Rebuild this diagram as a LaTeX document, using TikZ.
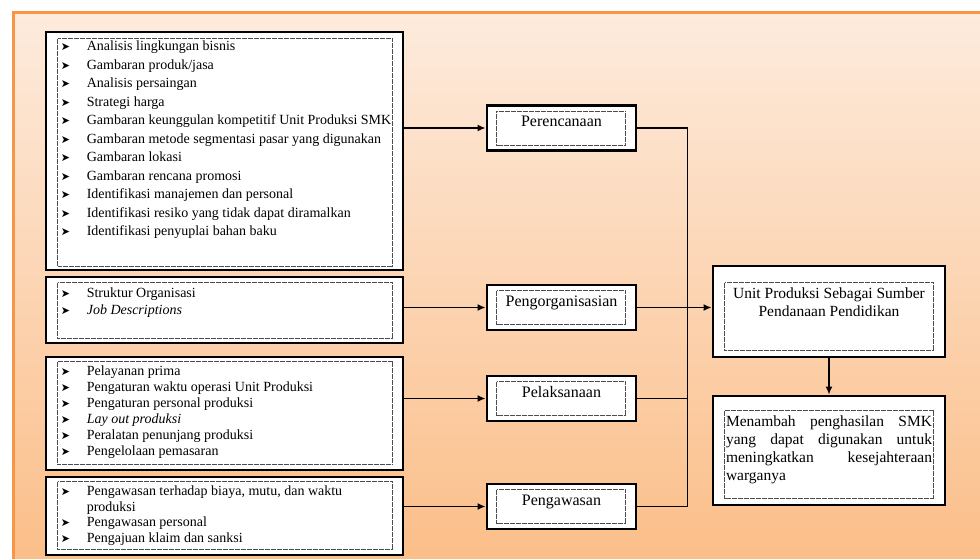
\documentclass[tikz,border=0pt]{standalone}
\usepackage{fontspec}
\setmainfont{Liberation Serif}
\newfontfamily\symfont{DejaVu Sans}
\usetikzlibrary{arrows.meta,positioning}
\definecolor{frameorange}{HTML}{F79646}
\definecolor{shadetop}{HTML}{FDEBDD}
\definecolor{shadebot}{HTML}{FBBE88}
\newcommand{\blt}{\makebox[29pt][l]{\hspace{3pt}{\symfont\fontsize{11}{11}\selectfont ➤}}}

\begin{document}
\begin{tikzpicture}[
  x=1pt, y=-1pt,
  listbox/.style={draw, line width=2.8pt, fill=white, minimum width=357pt, inner sep=0pt},
  stagebox/.style={draw, line width=2.8pt, fill=white, minimum width=149pt, minimum height=45pt,
    inner sep=0pt, font=\fontsize{16}{18}\selectfont, text height=10pt, text depth=13pt},
  resultbox/.style={draw, line width=2.8pt, fill=white, minimum width=232pt, inner sep=0pt},
  listtext/.style={align=left, inner sep=0pt, anchor=north west, font=\fontsize{14}{#1}\selectfont},
  dotline/.style={line width=0.6pt, black!70, dash pattern=on 0.5pt off 0.7pt},
  conn/.style={line width=1.8pt},
  arrow/.style={conn, -{Latex[length=8pt,width=7pt]}}
]
\useasboundingbox (0,0) rectangle (980,558);
% panel
\shade[top color=shadetop, bottom color=shadebot] (13,12) rectangle (985,565);
\draw[frameorange, line width=3pt] (13,565) -- (13,12) -- (985,12);

% left lists
\node[listbox, minimum height=238pt] (planbox) at (224.5,151) {};
\node[listbox, minimum height=66pt] (orgbox) at (224.5,310) {};
\node[listbox, minimum height=113pt] (execbox) at (224.5,413.5) {};
\node[listbox, minimum height=78pt] (ctrlbox) at (224.5,516) {};
\draw[dotline] ([shift={(13,8)}]planbox.north west) rectangle ([shift={(-12,-5)}]planbox.south east);
\draw[dotline] ([shift={(13,7)}]orgbox.north west) rectangle ([shift={(-12,-6)}]orgbox.south east);
\draw[dotline] ([shift={(13,6)}]execbox.north west) rectangle ([shift={(-12,-7)}]execbox.south east);
\draw[dotline] ([shift={(13,6)}]ctrlbox.north west) rectangle ([shift={(-12,-7)}]ctrlbox.south east);

\node[listtext=18.5pt, below right=10pt and 13pt of planbox.north west] (plantext) {%
  \blt Analisis lingkungan bisnis\\
  \blt Gambaran produk/jasa\\
  \blt Analisis persaingan\\
  \blt Strategi harga\\
  \blt Gambaran keunggulan kompetitif Unit Produksi SMK\\
  \blt Gambaran metode segmentasi pasar yang digunakan\\
  \blt Gambaran lokasi\\
  \blt Gambaran rencana promosi\\
  \blt Identifikasi manajemen  dan personal\\
  \blt Identifikasi resiko yang tidak dapat diramalkan\\
  \blt Identifikasi penyuplai  bahan baku};
\node[listtext=17pt, below right=12pt and 13pt of orgbox.north west] (orgtext) {%
  \blt Struktur Organisasi\\
  \blt \textit{Job Descriptions}};
\node[listtext=16pt, below right=10pt and 13pt of execbox.north west] (exectext) {%
  \blt Pelayanan prima\\
  \blt Pengaturan waktu operasi Unit Produksi\\
  \blt Pengaturan personal produksi\\
  \blt \textit{Lay out produksi}\\
  \blt Peralatan penunjang produksi\\
  \blt Pengelolaan pemasaran};
\node[listtext=15.7pt, below right=10pt and 13pt of ctrlbox.north west] (ctrltext) {%
  \blt Pengawasan terhadap biaya, mutu, dan waktu\\
  \hspace*{29pt}produksi\\
  \blt Pengawasan personal\\
  \blt Pengajuan klaim dan sanksi};

% stages
\node[stagebox] (perenc) at (561.5,128) {Perencanaan};
\node[stagebox] (pengorg) at (561.5,307.5) {Pengorganisasian};
\node[stagebox] (pelaks) at (561.5,398.5) {Pelaksanaan};
\node[stagebox] (pengaw) at (561.5,506.5) {Pengawasan};
\draw[dotline] ([shift={(11,7)}]perenc.north west) rectangle ([shift={(-12,-7)}]perenc.south east);
\draw[dotline] ([shift={(11,7)}]pengorg.north west) rectangle ([shift={(-12,-7)}]pengorg.south east);
\draw[dotline] ([shift={(11,7)}]pelaks.north west) rectangle ([shift={(-12,-7)}]pelaks.south east);
\draw[dotline] ([shift={(11,7)}]pengaw.north west) rectangle ([shift={(-12,-7)}]pengaw.south east);

% result boxes
\node[resultbox, minimum height=91pt] (unitbox) at (829,311.5) {};
\node[resultbox, minimum height=109pt] (gainbox) at (829,450.5) {};
\draw[dotline] ([shift={(13,18)}]unitbox.north west) rectangle ([shift={(-13,-8)}]unitbox.south east);
\draw[dotline] ([shift={(13,16)}]gainbox.north west) rectangle ([shift={(-13,-8)}]gainbox.south east);
\node[align=center, inner sep=0pt, anchor=north, font=\fontsize{15.5}{18}\selectfont,
  below=23pt of unitbox.north] (unittext) {Unit Produksi Sebagai Sumber\\Pendanaan Pendidikan};
\node[align=justify, text width=206pt, inner sep=0pt, anchor=north, font=\fontsize{15.5}{18}\selectfont,
  below=21pt of gainbox.north] (gaintext) {Menambah penghasilan SMK\linebreak
  yang dapat digunakan untuk\linebreak meningkatkan kesejahteraan\linebreak warganya};

% connectors
\coordinate[right=50pt of pengaw.east] (busbot);
\draw[arrow] (planbox.east |- perenc.west) -- (perenc.west);
\draw[arrow] (orgbox.east |- pengorg.west) -- (pengorg.west);
\draw[arrow] (execbox.east |- pelaks.west) -- (pelaks.west);
\draw[arrow] (ctrlbox.east |- pengaw.west) -- (pengaw.west);
\draw[conn] (perenc.east) -| (busbot) -- (pengaw.east);
\draw[conn] (pelaks.east) -- (pelaks.east -| busbot);
\draw[conn] (pengorg.east) -- (pengorg.east -| busbot);
\draw[arrow] (pengorg.east -| busbot) -- (unitbox.west |- pengorg.east);
\draw[arrow] (unitbox.south) -- (gainbox.north);
\end{tikzpicture}
\end{document}
